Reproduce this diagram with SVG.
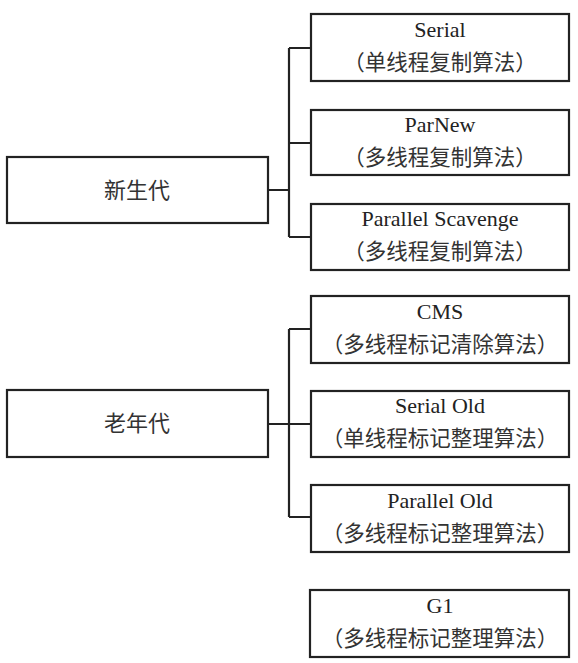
<svg xmlns="http://www.w3.org/2000/svg" width="578" height="663" viewBox="0 0 578 663">
<style>
.box{fill:#fff;stroke:#222;stroke-width:2.2}
.en{font-family:'Liberation Serif','Times New Roman',serif;font-size:22px;fill:#222;text-anchor:middle}
.zh{font-family:'Noto Sans CJK SC','Noto Sans CJK JP',sans-serif;font-size:21.5px;fill:#333;text-anchor:middle}
.big{font-family:'Noto Sans CJK SC','Noto Sans CJK JP',sans-serif;font-size:22px;fill:#333;text-anchor:middle}
.ln{fill:none;stroke:#222;stroke-width:2.2}
</style>
<rect width="578" height="663" fill="#fff"/>
<g id="connectors">
<path class="ln" d="M268,190 H289 M289,48 V237 M289,48 H311 M289,143 H311 M289,237 H311"/>
<path class="ln" d="M268,424 H289 M289,329 V517 M289,329 H311 M289,424 H311 M289,517 H311"/>
</g>
<g id="young">
<rect class="box" x="7" y="157" width="261" height="66"/>
<text class="big" x="137" y="198">新生代</text>
</g>
<g id="serial">
<rect class="box" x="311" y="14" width="258" height="67"/>
<text class="en" x="440" y="37">Serial</text>
<text class="zh" x="440" y="70">（单线程复制算法）</text>
</g>
<g id="parnew">
<rect class="box" x="311" y="110" width="258" height="65"/>
<text class="en" x="440" y="132">ParNew</text>
<text class="zh" x="440" y="165">（多线程复制算法）</text>
</g>
<g id="parallel-scavenge">
<rect class="box" x="311" y="204" width="258" height="66"/>
<text class="en" x="440" y="226">Parallel Scavenge</text>
<text class="zh" x="440" y="259">（多线程复制算法）</text>
</g>
<g id="old">
<rect class="box" x="7" y="390" width="261" height="67"/>
<text class="big" x="137" y="431">老年代</text>
</g>
<g id="cms">
<rect class="box" x="311" y="296" width="258" height="67"/>
<text class="en" x="440" y="319">CMS</text>
<text class="zh" x="440" y="352">（多线程标记清除算法）</text>
</g>
<g id="serial-old">
<rect class="box" x="311" y="391" width="258" height="66"/>
<text class="en" x="440" y="413">Serial Old</text>
<text class="zh" x="440" y="446">（单线程标记整理算法）</text>
</g>
<g id="parallel-old">
<rect class="box" x="311" y="485" width="258" height="67"/>
<text class="en" x="440" y="508">Parallel Old</text>
<text class="zh" x="440" y="541">（多线程标记整理算法）</text>
</g>
<g id="g1">
<rect class="box" x="310" y="590" width="259" height="67"/>
<text class="en" x="440" y="613">G1</text>
<text class="zh" x="440" y="646">（多线程标记整理算法）</text>
</g>
</svg>
